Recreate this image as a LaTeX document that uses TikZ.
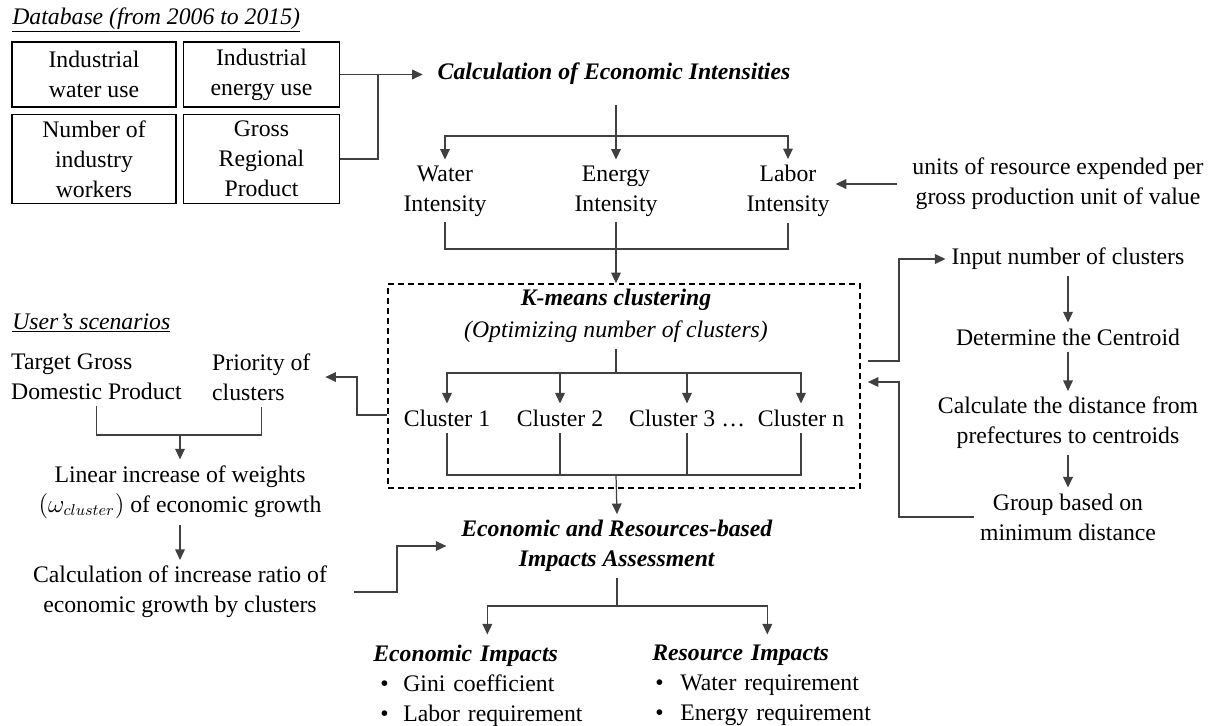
\documentclass[tikz,border=0pt]{standalone}
\usepackage{fontspec}
\setmainfont{Liberation Serif}
\usepackage{tikz}
\usetikzlibrary{arrows.meta}

\begin{document}
\begin{tikzpicture}[x=0.02cm, y=-0.02cm,
    font=\fontsize{13.5}{17}\selectfont,
    box/.style={draw=black, line width=1.1pt, align=center, inner sep=0pt},
    txt/.style={align=center},
    con/.style={draw=black!75, line width=0.7pt},
    arr/.style={con, -{Triangle[length=6pt,width=5.5pt]}},
    kdash/.style={draw=black, line width=1pt, dash pattern=on 3.4pt off 2.3pt}]
    \useasboundingbox (0,0) rectangle (1208,725);

    % --- 1. database boxes ---
    \node[anchor=west, inner sep=0pt] (dbtitle) at (12,20) {\underline{\textit{Database (from 2006 to 2015)}}};
    \node[box, minimum width=3.28cm, minimum height=1.3cm] (wuse) at (94,74.5) {Industrial\\water use};
    \node[box, minimum width=3.12cm, minimum height=1.3cm] (euse) at (261.5,74.5) {Industrial\\energy use};
    \node[box, minimum width=3.28cm, minimum height=1.78cm] (workers) at (94,159) {Number of\\industry\\workers};
    \node[box, minimum width=3.12cm, minimum height=1.78cm] (grp) at (261.5,159) {Gross\\Regional\\Product};

    % --- 2. economic intensities ---
    \node (calc) at (614,74) {\textbf{\textit{Calculation of Economic Intensities}}};
    \node[txt] (water) at (445,191) {Water\\Intensity};
    \node[txt] (energy) at (616,191) {Energy\\Intensity};
    \node[txt] (labor) at (788,191) {Labor\\Intensity};
    \node[txt] (units) at (1058,184) {units of resource expended per\\gross production unit of value};
    \coordinate (dbjoin) at (378,74.5);
    \coordinate (isplit) at (616,136);
    \coordinate (imerge) at (616,249);

    \draw[con] (euse.east) -- (dbjoin) |- (grp.east);
    \draw[arr, shorten >=5pt] (dbjoin) -- (dbjoin -| calc.west);
    \draw[con, shorten <=8pt] (calc.south -| isplit) -- (isplit);
    \draw[arr] (isplit) -| (water.north);
    \draw[arr] (isplit) -- (energy.north);
    \draw[arr] (isplit) -| (labor.north);
    \draw[arr, shorten <=5pt] (units.west) -- (units.west -| labor.east);
    \draw[con] (water.south) |- (imerge) -| (labor.south);
    \draw[con] (energy.south) -- (imerge);

    % --- 3. k-means clustering ---
    \node[kdash, minimum width=9.44cm, minimum height=4.08cm] (kbox) at (624,386) {};
    \node (ktitle) at (616,300) {\textbf{\textit{K-means clustering}}};
    \node (ksub) at (616,332) {\textit{(Optimizing number of clusters)}};
    \node (c1) at (447,418) {Cluster 1};
    \node (c2) at (560,418) {Cluster 2};
    \node (c3) at (687,418) {Cluster 3 \ldots};
    \node (cn) at (801,418) {Cluster n};
    \coordinate (csplit) at (616,373);
    \coordinate (cmerge) at (616,475);

    \draw[arr] (imerge) -- (imerge |- kbox.north);
    \draw[con] (ksub.south) -- (csplit);
    \draw[arr] (csplit) -| (c1.north);
    \draw[arr] (csplit) -| (c2.north);
    \draw[arr] (csplit) -| (c3.north);
    \draw[arr] (csplit) -| (cn.north);
    \draw[con] (c1.south) |- (cmerge) -| (cn.south);
    \draw[con] (c2.south) -- (c2.south |- cmerge);
    \draw[con] (c3.south) -- (c3.south |- cmerge);

    % --- 4. centroid loop ---
    \node (inp) at (1068,259) {Input number of clusters};
    \node (cent) at (1068,337) {Determine the Centroid};
    \node[txt] (dist) at (1068,423) {Calculate the distance from\\prefectures to centroids};
    \node[txt] (group) at (1068,517) {Group based on\\minimum distance};
    \coordinate (kout) at (899,361);
    \coordinate (kin) at (899,382);

    \draw[arr] ([xshift=4pt]kout -| kbox.east) -- (kout) |- (inp.west);
    \draw[arr] (inp) -- (cent);
    \draw[arr] (cent) -- (dist);
    \draw[arr] (dist) -- (group);
    \draw[arr, shorten >=4pt] (group.west) -| (kin) -- (kin -| kbox.east);

    % --- 5. user's scenarios ---
    \node[anchor=west, inner sep=0pt] (scen) at (12,323) {\underline{\textit{User’s scenarios}}};
    \node[anchor=west, align=left] (target) at (5,377) {Target Gross\\Domestic Product};
    \node[anchor=west, align=left] (prio) at (206,377) {Priority of\\clusters};
    \node[txt] (lin) at (180,492) {Linear increase of weights\\$(\omega_{cluster})$ of economic growth};
    \node[txt] (ratio) at (180,592) {Calculation of increase ratio of\\economic growth by clusters};
    \coordinate (smerge) at (180,435);
    \coordinate (kleft) at (357,415);
    \coordinate (rjoin) at (397,590);

    \draw[con] (target.south) |- (smerge) -| (prio.south);
    \draw[arr] (smerge) -- (lin.north);
    \draw[arr] (lin) -- (ratio);
    \draw[arr, shorten >=5pt] (kleft -| kbox.west) -- (kleft) |- (prio.east);

    % --- 6. impacts assessment ---
    \node[txt] (assess) at (617,546) {\textbf{\textit{Economic and Resources-based}}\\\textbf{\textit{Impacts Assessment}}};
    \node[anchor=north west, inner sep=0pt, text width=4.56cm, align=left] (econ) at (373,645)
        {\textbf{\textit{Economic Impacts}}\\
         \hspace*{0.14cm}\makebox[0.46cm][l]{\textbullet}Gini coefficient\\
         \hspace*{0.14cm}\makebox[0.46cm][l]{\textbullet}Labor requirement};
    \node[anchor=north west, inner sep=0pt, text width=4.6cm, align=left] (res) at (652,645)
        {\textbf{\textit{Resource Impacts}}\\
         \hspace*{0.06cm}\makebox[0.5cm][l]{\textbullet}Water requirement\\
         \hspace*{0.06cm}\makebox[0.5cm][l]{\textbullet}Energy requirement};
    \coordinate (asplit) at (617,606);

    \draw[arr] (cmerge) -- (assess.north);
    \draw[arr, shorten >=5pt] ([xshift=12pt]ratio.east) -- (ratio.east -| rjoin) |- (assess.west);
    \draw[con] (assess.south) -- (asplit);
    \draw[arr, shorten >=6pt] (asplit) -| (econ.north);
    \draw[arr, shorten >=6pt] (asplit) -| (res.north);
\end{tikzpicture}
\end{document}
